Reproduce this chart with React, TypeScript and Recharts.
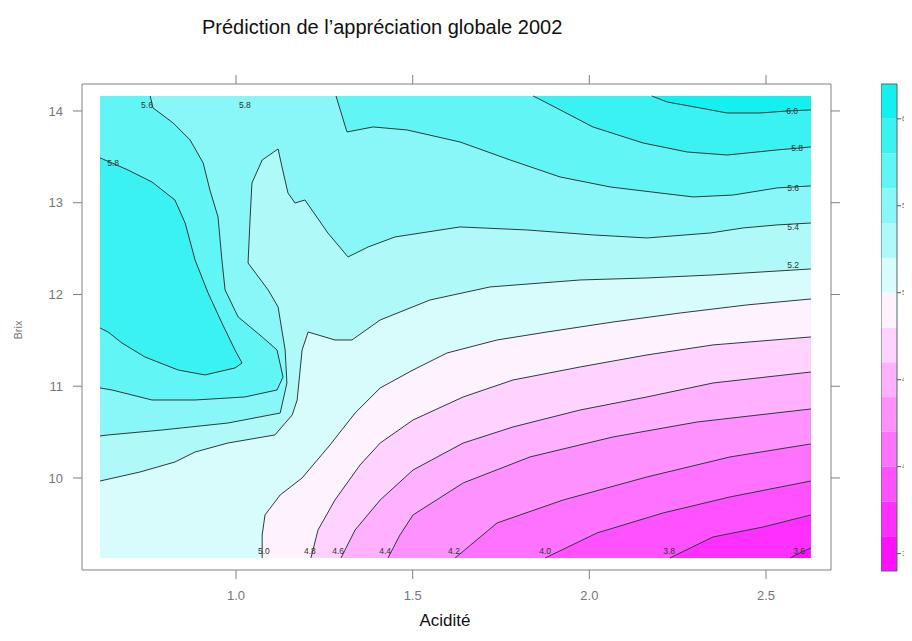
import React from 'react';
import { ComposedChart, Scatter, XAxis, YAxis, ReferenceArea } from 'recharts';

type P = [number, number];

// axis ticks
const xTicks = [1.0, 1.5, 2.0, 2.5];
const yTicks = [10, 11, 12, 13, 14];
const keyTicks = [3.5, 4.0, 4.5, 5.0, 5.5, 6.0];
const keyBreaks = [3.4, 3.6, 3.8, 4.0, 4.2, 4.4, 4.6, 4.8, 5.0, 5.2, 5.4, 5.6, 5.8, 6.0, 6.2];

// extent of the predicted grid
const X0 = 0.615, X1 = 2.627, Y0 = 9.128, Y1 = 14.163;
const TR: P = [X1, Y1];
const TL: P = [X0, Y1];
const BL: P = [X0, Y0];

// contour lines (Acidité, Brix)
const c36: P[] = [[2.568, 9.128], [2.600, 9.190], [2.627, 9.237]];
const c38: P[] = [[2.228, 9.128], [2.350, 9.357], [2.492, 9.466], [2.627, 9.597]];
const c40: P[] = [[1.875, 9.128], [2.022, 9.401], [2.209, 9.619], [2.398, 9.793], [2.627, 9.967]];
const c42: P[] = [[1.620, 9.128], [1.739, 9.510], [1.926, 9.760], [2.163, 10.011], [2.398, 10.229], [2.627, 10.371]];
const c44: P[] = [[1.430, 9.128], [1.464, 9.379], [1.501, 9.597], [1.643, 9.946], [1.832, 10.229], [2.067, 10.447], [2.305, 10.610], [2.627, 10.752]];
const c46: P[] = [[1.297, 9.128], [1.337, 9.433], [1.408, 9.760], [1.501, 10.087], [1.643, 10.381], [1.784, 10.556], [1.974, 10.741], [2.163, 10.883], [2.350, 11.035], [2.627, 11.155]];
const c48: P[] = [[1.212, 9.128], [1.232, 9.433], [1.280, 9.760], [1.351, 10.142], [1.408, 10.381], [1.501, 10.632], [1.643, 10.883], [1.784, 11.068], [1.974, 11.210], [2.163, 11.341], [2.350, 11.450], [2.627, 11.537]];
const c50: P[] = [[1.074, 9.128], [1.074, 9.379], [1.082, 9.597], [1.125, 9.815], [1.187, 10.0], [1.266, 10.360], [1.337, 10.708], [1.408, 10.981], [1.501, 11.177], [1.597, 11.362], [1.739, 11.504], [1.880, 11.591], [2.067, 11.700], [2.257, 11.798], [2.446, 11.886], [2.627, 11.951]];
const c52: P[] = [[0.615, 9.967], [0.728, 10.065], [0.827, 10.174], [0.884, 10.283], [0.977, 10.381], [1.110, 10.469], [1.159, 10.687], [1.173, 10.850], [1.187, 11.395], [1.204, 11.591], [1.280, 11.504], [1.328, 11.504], [1.408, 11.722], [1.549, 11.940], [1.719, 12.082], [1.974, 12.158], [2.163, 12.180], [2.350, 12.213], [2.627, 12.278]];
const c54: P[] = [[0.615, 10.458], [0.638, 10.469], [0.791, 10.523], [0.977, 10.599], [1.125, 10.708], [1.144, 11.035], [1.139, 11.395], [1.119, 11.864], [1.091, 12.049], [1.034, 12.343], [1.040, 12.845], [1.045, 13.215], [1.074, 13.466], [1.119, 13.586], [1.130, 13.390], [1.147, 13.106], [1.167, 12.997], [1.195, 13.030], [1.260, 12.670], [1.317, 12.409], [1.374, 12.518], [1.450, 12.627], [1.634, 12.736], [1.824, 12.703], [2.010, 12.649], [2.163, 12.616], [2.342, 12.670], [2.435, 12.725], [2.531, 12.758], [2.627, 12.779]];
const c56left: P[] = [[0.757, 14.163], [0.765, 14.033], [0.822, 13.869], [0.870, 13.684], [0.907, 13.433], [0.926, 13.139], [0.949, 12.845], [0.960, 12.376], [0.969, 12.049], [1.006, 11.755], [1.074, 11.537], [1.116, 11.395], [1.133, 11.101], [1.116, 10.959], [1.025, 10.883], [0.884, 10.850], [0.762, 10.850], [0.649, 10.959], [0.615, 10.981]];
const c56right: P[] = [[1.283, 14.163], [1.314, 13.771], [1.388, 13.826], [1.484, 13.793], [1.634, 13.662], [1.776, 13.466], [1.917, 13.281], [2.059, 13.172], [2.200, 13.106], [2.294, 13.063], [2.407, 13.084], [2.531, 13.161], [2.627, 13.183]];
const c58left: P[] = [[0.615, 13.488], [0.649, 13.433], [0.694, 13.357], [0.762, 13.226], [0.827, 13.030], [0.856, 12.779], [0.884, 12.376], [0.921, 12.016], [0.960, 11.689], [0.997, 11.395], [1.017, 11.253], [0.997, 11.199], [0.912, 11.123], [0.836, 11.177], [0.742, 11.319], [0.677, 11.471], [0.638, 11.591], [0.615, 11.635]];
const c58right: P[] = [[1.841, 14.163], [1.880, 14.087], [2.010, 13.826], [2.152, 13.651], [2.277, 13.553], [2.390, 13.520], [2.531, 13.575], [2.627, 13.608]];
const c60: P[] = [[2.177, 14.163], [2.220, 14.098], [2.313, 14.033], [2.390, 13.978], [2.483, 13.978], [2.560, 14.000], [2.627, 14.011]];

// contour labels
const contourLabels = [
  { x: 0.748, y: 14.07, t: '5.6' },
  { x: 1.025, y: 14.07, t: '5.8' },
  { x: 0.652, y: 13.43, t: '5.8' },
  { x: 2.574, y: 14.0, t: '6.0' },
  { x: 2.588, y: 13.6, t: '5.8' },
  { x: 2.577, y: 13.16, t: '5.6' },
  { x: 2.577, y: 12.74, t: '5.4' },
  { x: 2.577, y: 12.32, t: '5.2' },
  { x: 1.079, y: 9.2, t: '5.0' },
  { x: 1.209, y: 9.2, t: '4.8' },
  { x: 1.289, y: 9.2, t: '4.6' },
  { x: 1.422, y: 9.2, t: '4.4' },
  { x: 1.617, y: 9.2, t: '4.2' },
  { x: 1.875, y: 9.2, t: '4.0' },
  { x: 2.226, y: 9.2, t: '3.8' },
  { x: 2.594, y: 9.2, t: '3.6' },
];

const bandFill = (lo: number): string => {
  const v = lo + 0.1;
  if (v < 4.95) {
    const t = Math.min(1, (4.95 - v) / 1.55);
    const g = Math.round(250 * (1 - t));
    return `rgb(255,${g},255)`;
  }
  const t = Math.min(1, (v - 4.95) / 1.25);
  const r = Math.round(245 * (1 - t));
  const gb = Math.round(253 - 14 * t);
  return `rgb(${r},${gb},${gb})`;
};

const toXY = (pts: P[]) => pts.map(([x, y]) => ({ x, y }));

const Empty = () => <g />;

const polyLine = (fill: string) => (props: any) => {
  const pts = (props.points || []).filter((p: any) => p.x != null && p.y != null);
  if (!pts.length) return <g />;
  const d = pts.map((p: any, i: number) => `${i ? 'L' : 'M'}${p.x},${p.y}`).join(' ') + ' Z';
  return <path d={d} fill={fill} stroke="none" />;
};

const LabelShape = (props: any) => {
  const t = props.payload?.t ?? props.t;
  return (
    <text x={props.cx} y={props.cy} textAnchor="middle" dominantBaseline="central" fontSize={8.5} fill="#333" fontFamily="Liberation Sans, Arial, sans-serif">
      {t}
    </text>
  );
};

const fills: { lo: number; pts: P[] }[] = [
  { lo: 3.6, pts: [...c36, TR, TL, BL] },
  { lo: 3.8, pts: [...c38, TR, TL, BL] },
  { lo: 4.0, pts: [...c40, TR, TL, BL] },
  { lo: 4.2, pts: [...c42, TR, TL, BL] },
  { lo: 4.4, pts: [...c44, TR, TL, BL] },
  { lo: 4.6, pts: [...c46, TR, TL, BL] },
  { lo: 4.8, pts: [...c48, TR, TL, BL] },
  { lo: 5.0, pts: [...c50, TR, TL, BL] },
  { lo: 5.2, pts: [...c52, TR, TL] },
  { lo: 5.4, pts: [...c54, TR, TL] },
  { lo: 5.6, pts: [...c56left, TL] },
  { lo: 5.6, pts: [...c56right, TR] },
  { lo: 5.8, pts: [...c58left] },
  { lo: 5.8, pts: [...c58right, TR] },
  { lo: 6.0, pts: [...c60, TR] },
];

const lines: P[][] = [c36, c38, c40, c42, c44, c46, c48, c50, c52, c54, c56left, c56right, c58left, c58right, c60];

const axisGray = '#808080';
const tickStyle = { fontSize: 13, fill: '#777', fontFamily: 'Liberation Sans, Arial, sans-serif' };

export default function App() {
  return (
    <div style={{ position: 'relative', width: 904, height: 633, fontFamily: 'Liberation Sans, Arial, sans-serif' }}>
      <div style={{ position: 'absolute', left: 194, top: 8, fontSize: 20, color: '#111', whiteSpace: 'nowrap' }}>
        Prédiction de l’appréciation globale 2002
      </div>
      <div style={{ position: 'absolute', left: 0, top: 0 }}>
        <ComposedChart width={904} height={633} margin={{ top: 66, left: 14, right: 71, bottom: 31 }}>
          <XAxis xAxisId="b" dataKey="x" type="number" domain={[0.564, 2.684]} allowDataOverflow ticks={xTicks}
            tickFormatter={(v: number) => v.toFixed(1)} tickSize={9} tickMargin={12} height={40}
            stroke={axisGray} tick={tickStyle} interval={0} />
          <XAxis xAxisId="t" orientation="top" dataKey="x" type="number" domain={[0.564, 2.684]} allowDataOverflow ticks={xTicks}
            tickSize={9} height={10} stroke={axisGray} tick={Empty as any} interval={0} />
          <YAxis yAxisId="l" dataKey="y" type="number" domain={[8.997, 14.294]} allowDataOverflow ticks={yTicks}
            tickSize={9} tickMargin={10} width={60} stroke={axisGray} tick={tickStyle} interval={0} />
          <YAxis yAxisId="r" orientation="right" dataKey="y" type="number" domain={[8.997, 14.294]} allowDataOverflow ticks={yTicks}
            tickSize={9} width={10} stroke={axisGray} tick={Empty as any} interval={0} />
          <ReferenceArea xAxisId="b" yAxisId="l" x1={X0} x2={X1} y1={Y0} y2={Y1} fill={bandFill(3.4)} fillOpacity={1} stroke="none" />
          {fills.map((f, i) => (
            <Scatter key={`f${i}`} xAxisId="b" yAxisId="l" data={toXY(f.pts)} shape={Empty} line={polyLine(bandFill(f.lo))}
              lineType="joint" isAnimationActive={false} legendType="none" />
          ))}
          {lines.map((l, i) => (
            <Scatter key={`l${i}`} xAxisId="b" yAxisId="l" data={toXY(l)} shape={Empty}
              line={{ stroke: '#2b3b3b', strokeWidth: 1 }} lineType="joint" isAnimationActive={false} legendType="none" fill="#333" />
          ))}
          <Scatter xAxisId="b" yAxisId="l" data={contourLabels} shape={LabelShape} isAnimationActive={false} legendType="none" />
        </ComposedChart>
      </div>
      <div style={{ position: 'absolute', left: 873, top: 0 }}>
        <ComposedChart width={31} height={633} margin={{ top: 76, left: 0, right: 0, bottom: 70 }}>
          <XAxis xAxisId="k" type="number" dataKey="x" domain={[0, 1]} hide allowDataOverflow />
          <YAxis yAxisId="k" orientation="right" type="number" dataKey="y" domain={[3.4, 6.2]} allowDataOverflow ticks={keyTicks}
            tickFormatter={(v: number) => v.toFixed(1)} tickSize={4} tickMargin={1} width={15} axisLine={false}
            stroke="#555" tick={{ fontSize: 6.5, fill: '#666' }} interval={0} />
          {keyBreaks.slice(0, -1).map((lo, i) => (
            <ReferenceArea key={`k${i}`} xAxisId="k" yAxisId="k" x1={0} x2={1} y1={lo} y2={keyBreaks[i + 1]}
              fill={bandFill(lo)} fillOpacity={1} stroke="none" />
          ))}
          <ReferenceArea xAxisId="k" yAxisId="k" x1={0} x2={1} y1={3.4} y2={6.2} fill="none" stroke="#4a6a6a" strokeWidth={1} />
        </ComposedChart>
      </div>
      <div style={{ position: 'absolute', left: 437, top: 613, transform: 'translate(-50%, -50%)', fontSize: 17, color: '#111', whiteSpace: 'nowrap' }}>
        Acidité
      </div>
      <div style={{ position: 'absolute', left: 10, top: 322, transform: 'translate(-50%, -50%) rotate(-90deg)', fontSize: 11, color: '#777', whiteSpace: 'nowrap' }}>
        Brix
      </div>
    </div>
  );
}
